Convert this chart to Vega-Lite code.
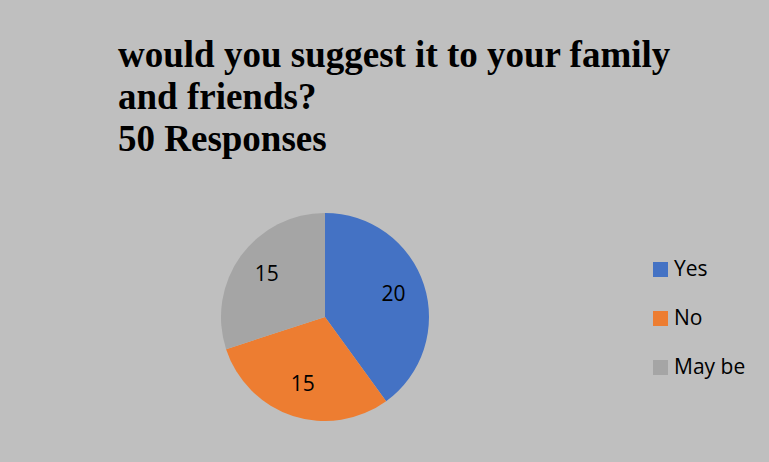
{
  "$schema": "https://vega.github.io/schema/vega-lite/v6.json",
  "autosize": {"type": "none"},
  "width": 208,
  "height": 208,
  "padding": {"left": 221, "top": 213, "right": 340, "bottom": 41},
  "background": "#bfbfbf",
  "title": {
    "text": ["would you suggest it to your family", "and friends?", "50 Responses"],
    "anchor": "start",
    "frame": "group",
    "orient": "top",
    "baseline": "alphabetic",
    "offset": 25,
    "dx": -103,
    "lineHeight": 42,
    "font": "Liberation Serif",
    "fontSize": 37,
    "fontWeight": "bold",
    "color": "#000000"
  },
  "data": {
    "values": [
      {"answer": "Yes", "count": 20, "idx": 1},
      {"answer": "No", "count": 15, "idx": 2},
      {"answer": "May be", "count": 15, "idx": 3}
    ]
  },
  "encoding": {
    "theta": {"field": "count", "type": "quantitative", "stack": true},
    "order": {"field": "idx", "type": "quantitative"},
    "color": {
      "field": "answer",
      "type": "nominal",
      "sort": ["Yes", "No", "May be"],
      "scale": {"domain": ["Yes", "No", "May be"], "range": ["#4472c4", "#ed7d31", "#a5a5a5"]},
      "legend": {
        "title": null,
        "orient": "none",
        "legendX": 429,
        "legendY": 46,
        "symbolType": "square",
        "symbolSize": 225,
        "symbolStrokeWidth": 0,
        "labelFont": "Open Sans",
        "labelFontSize": 21,
        "labelColor": "#000000",
        "labelOffset": 3,
        "rowPadding": 27
      }
    }
  },
  "layer": [
    {"mark": {"type": "arc", "outerRadius": 104, "stroke": null}},
    {
      "mark": {"type": "text", "radius": 72, "font": "Open Sans", "fontSize": 21, "color": "#000000"},
      "encoding": {"text": {"field": "count", "type": "quantitative"}, "color": {"value": "#000000"}}
    }
  ],
  "config": {"view": {"stroke": null}}
}
